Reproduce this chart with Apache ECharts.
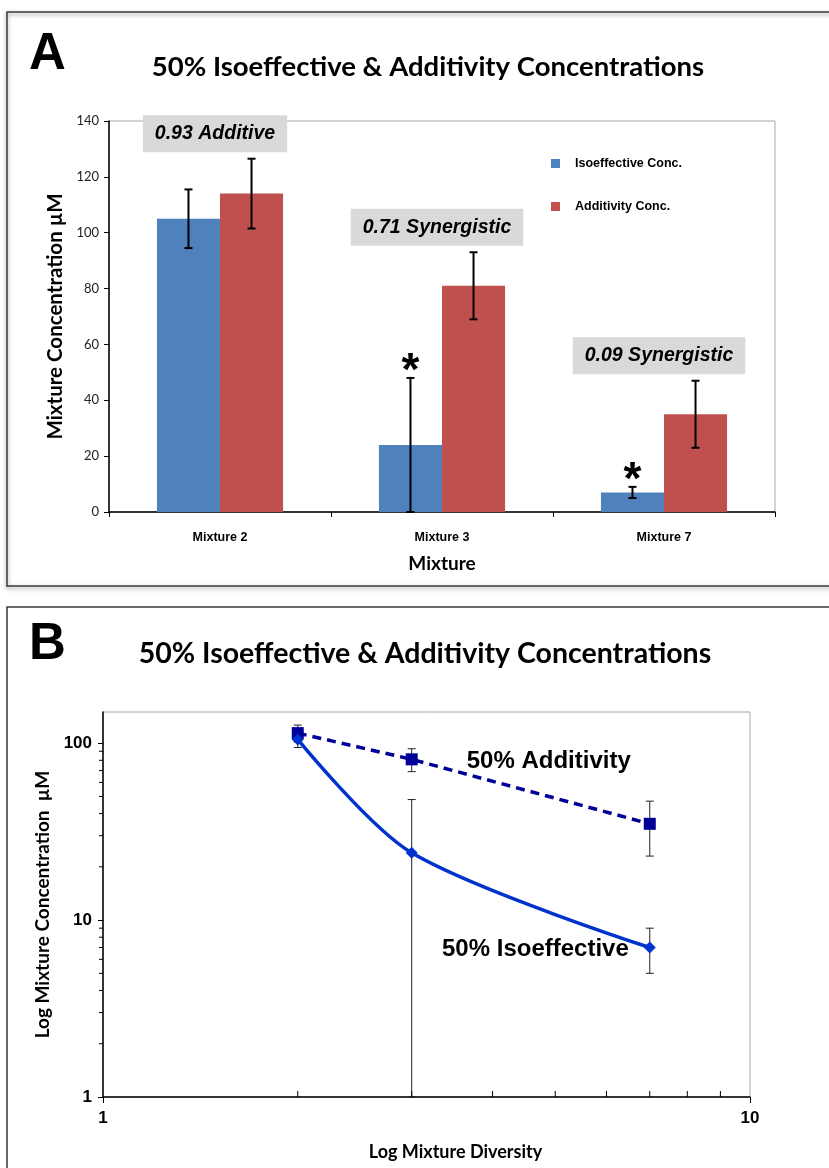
<!DOCTYPE html>
<html><head><meta charset="utf-8">
<script src="https://cdn.jsdelivr.net/npm/echarts@6/dist/echarts.min.js"></script>
<style>html,body{margin:0;padding:0;background:#fff}#c{width:829px;height:1168px}</style>
</head><body><div id="c"></div>
<script>
// ---- data ----
const categories = ['Mixture 2', 'Mixture 3', 'Mixture 7'];
const isoValues = [105, 24, 7];
const isoErrors = [10.5, 24, 2];
const addValues = [114, 81, 35];
const addErrors = [12.5, 12, 12];
const ratioLabels = ['0.93 Additive', '0.71 Synergistic', '0.09 Synergistic'];
const significant = [1, 2];
const diversity = [2, 3, 7];
const minorTicksX = [2, 3, 4, 5, 6, 7, 8, 9];
const minorTicksY = [2, 3, 4, 5, 6, 7, 8, 9, 20, 30, 40, 50, 60, 70, 80, 90];

// ---- style ----
const FA = '"Liberation Sans", Arial, sans-serif';
const FC = 'Lato, sans-serif';
const BLUE = '#4f81bd', RED = '#c0504d';
const NAVY = '#000099', LBLUE = '#0033cc';
const BAR_FRAC = 0.284;
const Y_MIN_B = 1, Y_MAX_B = 150;

const chart = echarts.init(document.getElementById('c'));

function errA(side, vals, errs) {
  return {
    type: 'custom', xAxisIndex: 0, yAxisIndex: 0, z: 5,
    data: vals.map((v, i) => [i, Math.max(v - errs[i], 0), v + errs[i]]),
    renderItem: function (params, api) {
      const i = api.value(0);
      const lo = api.coord([i, api.value(1)]);
      const hi = api.coord([i, api.value(2)]);
      const band = api.size([1, 0])[0];
      const x = lo[0] + side * band * BAR_FRAC / 2;
      const c = 4, st = { stroke: '#000', lineWidth: 2 };
      return { type: 'group', children: [
        { type: 'line', shape: { x1: x, y1: lo[1], x2: x, y2: hi[1] }, style: st },
        { type: 'line', shape: { x1: x - c, y1: hi[1], x2: x + c, y2: hi[1] }, style: st },
        { type: 'line', shape: { x1: x - c, y1: lo[1], x2: x + c, y2: lo[1] }, style: st }
      ] };
    }
  };
}

function errB(vals, errs) {
  return {
    type: 'custom', xAxisIndex: 1, yAxisIndex: 1, z: 1,
    data: vals.map((v, i) => [diversity[i], Math.max(v - errs[i], Y_MIN_B), v + errs[i]]),
    renderItem: function (params, api) {
      const lo = api.coord([api.value(0), api.value(1)]);
      const hi = api.coord([api.value(0), api.value(2)]);
      const x = lo[0], c = 4, st = { stroke: '#222', lineWidth: 1 };
      return { type: 'group', children: [
        { type: 'line', shape: { x1: x, y1: lo[1], x2: x, y2: hi[1] }, style: st },
        { type: 'line', shape: { x1: x - c, y1: hi[1], x2: x + c, y2: hi[1] }, style: st },
        { type: 'line', shape: { x1: x - c, y1: lo[1], x2: x + c, y2: lo[1] }, style: st }
      ] };
    }
  };
}

const option = {
  animation: false,
  backgroundColor: '#fff',
  graphic: [
    { type: 'rect', shape: { x: 7, y: 12, width: 900, height: 574 }, style: { fill: 'none', stroke: '#3a3a3a', lineWidth: 1.5, shadowBlur: 4, shadowColor: 'rgba(0,0,0,0.45)', shadowOffsetY: 2 } },
    { type: 'rect', shape: { x: 7, y: 607, width: 900, height: 700 }, style: { fill: 'none', stroke: '#3a3a3a', lineWidth: 1.5 } },
    { type: 'text', x: 29, y: 55, style: { text: 'A', font: 'bold 51px ' + FA, fill: '#000', verticalAlign: 'middle' } },
    { type: 'text', x: 29, y: 645, style: { text: 'B', font: 'bold 51px ' + FA, fill: '#000', verticalAlign: 'middle' } },
    { type: 'text', x: 428, y: 67, style: { text: '50% Isoeffective & Additivity Concentrations', font: 'bold 27.5px ' + FC, fill: '#000', align: 'center', verticalAlign: 'middle' } },
    { type: 'text', x: 425, y: 654, style: { text: '50% Isoeffective & Additivity Concentrations', font: 'bold 28.5px ' + FC, fill: '#000', align: 'center', verticalAlign: 'middle' } }
  ],
  legend: {
    data: ['Isoeffective Conc.', 'Additivity Conc.'],
    orient: 'vertical', left: 551, top: 157, itemGap: 30,
    icon: 'rect', itemWidth: 9, itemHeight: 9, padding: 0,
    textStyle: { fontFamily: FA, fontWeight: 'bold', fontSize: 12.5, color: '#000', padding: [0, 0, 0, 10] }
  },
  grid: [
    { left: 109, top: 121, width: 666, height: 391, show: true, borderColor: '#a6a6a6', borderWidth: 1 },
    { left: 103, top: 712, width: 647, height: 385, show: true, borderColor: '#a6a6a6', borderWidth: 1 }
  ],
  xAxis: [
    {
      type: 'category', gridIndex: 0, data: categories,
      axisLine: { lineStyle: { color: '#000', width: 1.5 } },
      axisTick: { show: true, length: 5, lineStyle: { color: '#000' } },
      axisLabel: { fontFamily: FA, fontWeight: 'bold', fontSize: 12.5, color: '#000', margin: 19 },
      name: 'Mixture', nameLocation: 'middle', nameGap: 42,
      nameTextStyle: { fontFamily: FC, fontWeight: 'bold', fontSize: 19, color: '#000' }
    },
    {
      type: 'log', gridIndex: 1, min: 1, max: 10, interval: 1, logBase: 10,
      axisLine: { lineStyle: { color: '#000', width: 1.5 } },
      axisTick: { show: true, length: 6, lineStyle: { color: '#000' } },
      axisLabel: { fontFamily: FA, fontWeight: 'bold', fontSize: 17, color: '#000', margin: 13 },
      splitLine: { show: false },
      name: 'Log Mixture Diversity', nameLocation: 'middle', nameGap: 46,
      nameTextStyle: { fontFamily: FC, fontWeight: 'bold', fontSize: 18, color: '#000', padding: [0, 0, 0, 58] }
    }
  ],
  yAxis: [
    {
      type: 'value', gridIndex: 0, min: 0, max: 140, interval: 20,
      axisLine: { show: true, lineStyle: { color: '#000', width: 1.5 } },
      axisTick: { show: true, length: 5, lineStyle: { color: '#000' } },
      axisLabel: { fontFamily: FC, fontSize: 13, color: '#222', margin: 10 },
      splitLine: { show: false },
      name: 'Mixture Concentration \u00b5M', nameLocation: 'middle', nameGap: 41,
      nameTextStyle: { fontFamily: FC, fontWeight: 'bold', fontSize: 20.5, color: '#000' }
    },
    {
      type: 'log', gridIndex: 1, min: Y_MIN_B, max: Y_MAX_B, interval: 1, logBase: 10,
      axisLine: { show: true, lineStyle: { color: '#000', width: 1.5 } },
      axisTick: { show: true, length: 5, lineStyle: { color: '#000' } },
      axisLabel: { fontFamily: FA, fontWeight: 'bold', fontSize: 17, color: '#000', margin: 11, showMaxLabel: false },
      splitLine: { show: false },
      name: 'Log Mixture Concentration  \u00b5M', nameLocation: 'middle', nameGap: 46,
      nameTextStyle: { fontFamily: FC, fontWeight: 'bold', fontSize: 19, color: '#000' }
    }
  ],
  series: [
    { name: 'Isoeffective Conc.', type: 'bar', xAxisIndex: 0, yAxisIndex: 0, data: isoValues, barWidth: (BAR_FRAC * 100) + '%', barGap: '0%', itemStyle: { color: BLUE } },
    { name: 'Additivity Conc.', type: 'bar', xAxisIndex: 0, yAxisIndex: 0, data: addValues, barWidth: (BAR_FRAC * 100) + '%', barGap: '0%', itemStyle: { color: RED } },
    errA(-1, isoValues, isoErrors),
    errA(1, addValues, addErrors),
    { // ratio annotation boxes
      type: 'custom', xAxisIndex: 0, yAxisIndex: 0, z: 6,
      data: addValues.map((v, i) => [i, v + addErrors[i]]),
      renderItem: function (params, api) {
        const p = api.coord([api.value(0), api.value(1)]);
        return { type: 'text', x: p[0] - 5, y: p[1] - 25, style: {
          text: ratioLabels[params.dataIndex], font: 'italic bold 19.5px ' + FA, fill: '#000',
          align: 'center', verticalAlign: 'middle', backgroundColor: '#d9d9d9', padding: [9, 12, 8, 12] } };
      }
    },
    { // significance asterisks
      type: 'custom', xAxisIndex: 0, yAxisIndex: 0, z: 6,
      data: significant.map(i => [i, isoValues[i] + isoErrors[i]]),
      renderItem: function (params, api) {
        const p = api.coord([api.value(0), api.value(1)]);
        const band = api.size([1, 0])[0];
        return { type: 'text', x: p[0] - band * BAR_FRAC / 2, y: p[1] - 6, style: {
          text: '*', font: 'bold 46px ' + FA, fill: '#000', align: 'center', verticalAlign: 'middle' } };
      }
    },
    errB(isoValues, isoErrors),
    errB(addValues, addErrors),
    {
      name: '50% Additivity', type: 'line', xAxisIndex: 1, yAxisIndex: 1, z: 3,
      data: diversity.map((d, i) => [d, addValues[i]]),
      symbol: 'rect', symbolSize: 12, itemStyle: { color: NAVY },
      lineStyle: { color: NAVY, width: 3.5, type: [9, 6] }
    },
    {
      name: '50% Isoeffective', type: 'line', xAxisIndex: 1, yAxisIndex: 1, z: 4,
      data: diversity.map((d, i) => [d, isoValues[i]]),
      smooth: 0.3, symbol: 'diamond', symbolSize: 12, itemStyle: { color: LBLUE },
      lineStyle: { color: LBLUE, width: 3.5 }
    },
    { // series labels in panel B
      type: 'custom', xAxisIndex: 1, yAxisIndex: 1, z: 6,
      data: [[diversity[1], addValues[1]], [diversity[2], isoValues[2]]],
      renderItem: function (params, api) {
        const p = api.coord([api.value(0), api.value(1)]);
        const k = params.dataIndex;
        return { type: 'text', x: k === 0 ? p[0] + 55 : p[0] - 21, y: p[1] + 2, style: {
          text: k === 0 ? '50% Additivity' : '50% Isoeffective', font: 'bold 24px ' + FA, fill: '#000',
          align: k === 0 ? 'left' : 'right', verticalAlign: 'middle' } };
      }
    },
    { // x minor ticks (inside)
      type: 'custom', xAxisIndex: 1, yAxisIndex: 1, z: 2,
      data: minorTicksX.map(v => [v, Y_MIN_B]),
      renderItem: function (params, api) {
        const p = api.coord([api.value(0), api.value(1)]);
        return { type: 'line', shape: { x1: p[0], y1: p[1], x2: p[0], y2: p[1] - 6 }, style: { stroke: '#000', lineWidth: 1 } };
      }
    },
    { // y minor ticks (outside)
      type: 'custom', xAxisIndex: 1, yAxisIndex: 1, z: 2,
      data: minorTicksY.map(v => [1, v]),
      renderItem: function (params, api) {
        const p = api.coord([api.value(0), api.value(1)]);
        return { type: 'line', shape: { x1: p[0], y1: p[1], x2: p[0] - 4, y2: p[1] }, style: { stroke: '#000', lineWidth: 1 } };
      }
    }
  ]
};
chart.setOption(option);
</script></body></html>
